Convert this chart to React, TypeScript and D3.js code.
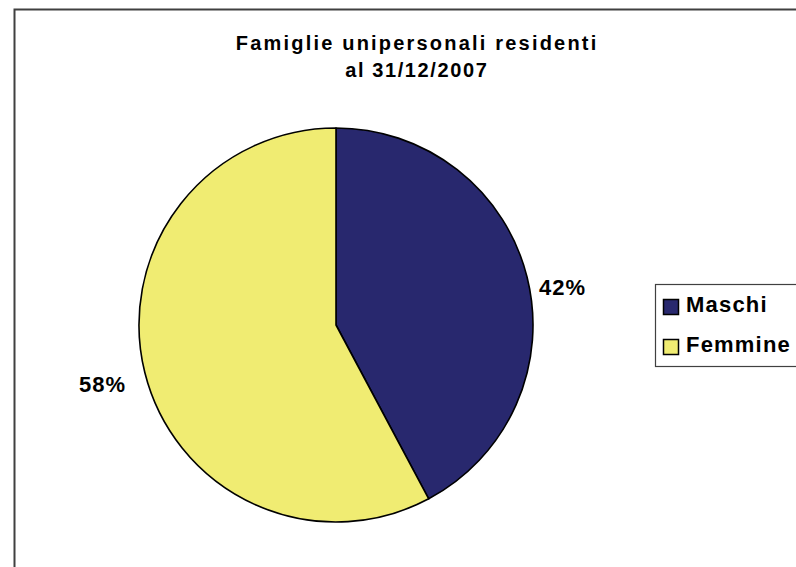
import React from "react";
import * as d3 from "d3";

const categories = ["Maschi", "Femmine"];
const values = [42.2, 57.8];
const labels = ["42%", "58%"];
const colors = ["#28286E", "#F0EC72"];
const titleLines = ["Famiglie unipersonali residenti", "al 31/12/2007"];

export default function App() {
  const W = 796, H = 567;
  const cx = 336, cy = 325, r = 197;
  const pie = d3.pie<number>().sort(null).value((d) => d)(values);
  const arc = d3.arc<d3.PieArcDatum<number>>().innerRadius(0).outerRadius(r);
  const labelPos = [
    [562, 294],
    [102, 391],
  ];
  const titleSpacing = [2.2, 1.6];
  const font = "'Liberation Sans', Arial, sans-serif";
  return (
    <svg width={W} height={H} style={{ position: "absolute", left: 0, top: 0, background: "#fff" }}>
      <rect x={14.5} y={9.5} width={900} height={700} fill="#fff" stroke="#404040" strokeWidth={2} />
      {titleLines.map((t, i) => (
        <text key={i} x={416 + titleSpacing[i] / 2} y={50 + i * 27} textAnchor="middle" fontFamily={font} fontWeight="bold" fontSize={20} letterSpacing={titleSpacing[i]} fill="#000">
          {t}
        </text>
      ))}
      <g transform={`translate(${cx},${cy})`}>
        {pie.map((p, i) => (
          <path key={i} d={arc(p) || ""} fill={colors[i]} stroke="#000" strokeWidth={1.6} strokeLinejoin="round" />
        ))}
      </g>
      {labels.map((l, i) => (
        <text key={i} x={labelPos[i][0] + 0.5} y={labelPos[i][1] + 1} textAnchor="middle" fontFamily={font} fontWeight="bold" fontSize={22} letterSpacing={1} fill="#000">
          {l}
        </text>
      ))}
      <rect x={655.5} y={284.5} width={300} height={82} fill="#fff" stroke="#404040" strokeWidth={1.2} />
      {categories.map((c, i) => (
        <g key={c}>
          <rect x={663.5} y={299.5 + i * 40} width={15} height={15} fill={colors[i]} stroke="#000" strokeWidth={1.5} />
          <text x={686} y={312 + i * 39.5} fontFamily={font} fontWeight="bold" fontSize={22} letterSpacing={1.2} fill="#000">
            {c}
          </text>
        </g>
      ))}
    </svg>
  );
}
